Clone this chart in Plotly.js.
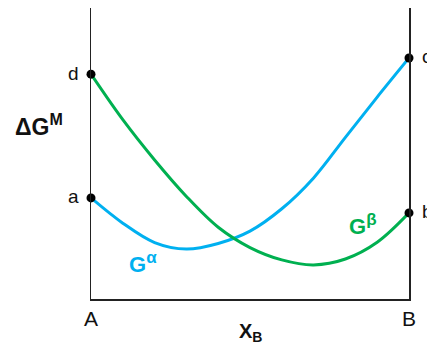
<!DOCTYPE html>
<html>
<head>
<meta charset="utf-8">
<script src="https://cdn.plot.ly/plotly-3.0.1.min.js"></script>
<style>
  html, body { margin: 0; padding: 0; background: #fff; }
  #chart { width: 427px; height: 347px; }
</style>
</head>
<body>
<div id="chart"></div>
<script>
// Mole fraction of B across the binary system A–B
const xB = [0, 0.1, 0.2, 0.3, 0.4, 0.5, 0.6, 0.7, 0.8, 0.9, 1];
// Free energy of mixing of the alpha phase
const gAlpha = [3.44, 2.58, 1.92, 1.70, 1.89, 2.31, 3.07, 4.12, 5.50, 6.87, 8.20];
// Free energy of mixing of the beta phase
const gBeta = [7.65, 6.10, 4.73, 3.49, 2.44, 1.75, 1.33, 1.16, 1.36, 1.93, 2.93];

const tickVals = [0, 1];
const tickText = ['A', 'B'];

const blue = '#00b0f0';
const green = '#00b050';

const last = xB.length - 1;
// End points of each curve (pure A and pure B)
const ends = [
  { x: xB[0], y: gAlpha[0], label: 'a', side: -1 },
  { x: xB[0], y: gBeta[0], label: 'd', side: -1 },
  { x: xB[last], y: gAlpha[last], label: 'c', side: 1 },
  { x: xB[last], y: gBeta[last], label: 'b', side: 1 }
];

const traces = [
  {
    x: xB, y: gAlpha, mode: 'lines', type: 'scatter',
    line: { color: blue, width: 3, shape: 'spline', smoothing: 1 },
    hoverinfo: 'skip', cliponaxis: false
  },
  {
    x: xB, y: gBeta, mode: 'lines', type: 'scatter',
    line: { color: green, width: 3, shape: 'spline', smoothing: 1 },
    hoverinfo: 'skip', cliponaxis: false
  },
  {
    x: ends.map(e => e.x), y: ends.map(e => e.y), mode: 'markers', type: 'scatter',
    marker: { color: '#000', size: 9 },
    hoverinfo: 'skip', cliponaxis: false
  }
];

const font = 'Liberation Sans, Arial, sans-serif';

const annotations = ends.map(e => ({
  x: e.x, y: e.y, xref: 'x', yref: 'y',
  text: e.label, showarrow: false,
  xshift: e.side * 18, yshift: 1,
  font: { family: font, size: 19, color: '#111' }
}));

annotations.push(
  {
    xref: 'paper', yref: 'paper', x: -0.245, y: 0.595, xanchor: 'left',
    text: '<b>ΔG<sup><span style="font-size:16px">M</span></sup></b>', showarrow: false,
    font: { family: font, size: 23, color: '#111' }
  },
  {
    xref: 'paper', yref: 'paper', x: 0.112, y: 0.07, xanchor: 'left',
    text: '<b>G<sup><span style="font-size:17px">α</span></sup></b>', showarrow: false,
    font: { family: font, size: 22, color: blue }
  },
  {
    xref: 'paper', yref: 'paper', x: 0.805, y: 0.2, xanchor: 'left',
    text: '<b>G<sup><span style="font-size:17px">β</span></sup></b>', showarrow: false,
    font: { family: font, size: 22, color: green }
  },
  {
    xref: 'paper', yref: 'paper', x: 0.5, y: -0.065, yanchor: 'top',
    text: '<b>X<sub>B</sub></b>', showarrow: false,
    font: { family: font, size: 20, color: '#111' }
  }
);

const layout = {
  width: 427, height: 347,
  margin: { l: 91, r: 18, t: 8, b: 48 },
  paper_bgcolor: '#fff', plot_bgcolor: '#fff',
  showlegend: false,
  xaxis: {
    range: [0, 1], showgrid: false, zeroline: false,
    showline: true, linecolor: '#222', linewidth: 1.5, mirror: false,
    tickvals: tickVals, ticktext: tickText, ticks: '',
    tickfont: { family: font, size: 21, color: '#111' },
    fixedrange: true
  },
  yaxis: {
    range: [0, 9.9], showgrid: false, zeroline: false,
    showline: true, linecolor: '#222', linewidth: 1.5, mirror: true,
    showticklabels: false, ticks: '',
    fixedrange: true
  },
  annotations: annotations
};

Plotly.newPlot('chart', traces, layout, { staticPlot: true, displayModeBar: false });
</script>
</body>
</html>
